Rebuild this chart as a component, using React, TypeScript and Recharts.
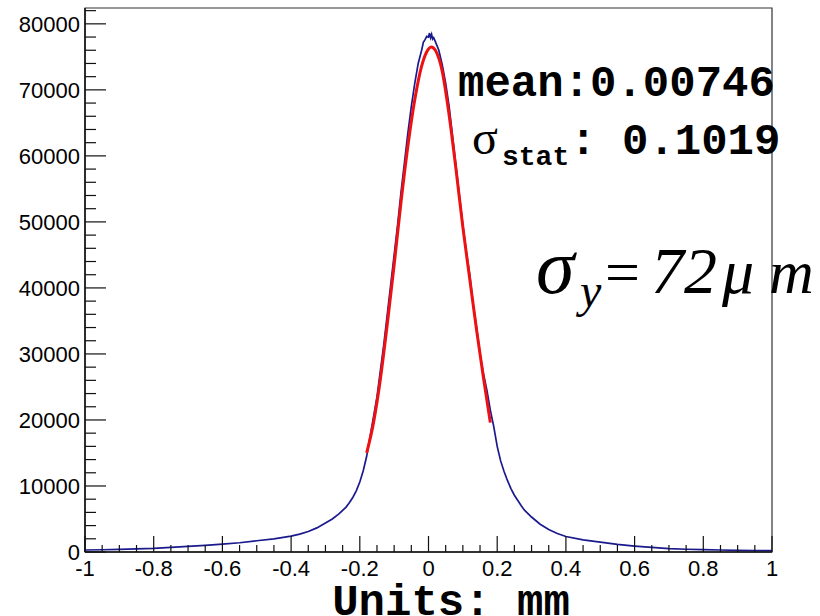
import React from "react";
import { LineChart, Line, XAxis, YAxis, ReferenceArea } from "recharts";

// Histogram (blue): x in mm, counts
const histX = [
  -1.0, -0.95, -0.9, -0.85, -0.8, -0.75, -0.7, -0.65, -0.6, -0.55, -0.5, -0.45, -0.4, -0.375, -0.35, -0.325,
  -0.3, -0.28, -0.26, -0.25, -0.24, -0.23, -0.22, -0.21, -0.2, -0.19, -0.18, -0.17, -0.16, -0.15, -0.14,
  -0.13, -0.12, -0.11, -0.1, -0.09, -0.08, -0.07, -0.06, -0.05, -0.04, -0.03, -0.02, -0.015, -0.01, -0.005,
  0.0, 0.003, 0.006, 0.009, 0.012, 0.015, 0.02, 0.03, 0.04, 0.05, 0.06, 0.07, 0.08, 0.09, 0.1, 0.11, 0.12,
  0.13, 0.14, 0.15, 0.16, 0.17, 0.18, 0.19, 0.2, 0.21, 0.22, 0.23, 0.24, 0.25, 0.26, 0.27, 0.28, 0.3,
  0.325, 0.35, 0.375, 0.4, 0.45, 0.5, 0.55, 0.6, 0.65, 0.7, 0.75, 0.8, 0.85, 0.9, 0.95, 1.0,
];
const histCounts = [
  300, 340, 400, 480, 560, 700, 850, 1000, 1200, 1400, 1700, 2000, 2400, 2700, 3100, 3650,
  4400, 5000, 5800, 6300, 6800, 7500, 8300, 9300, 10600, 12300, 14500, 17500, 20500, 23500, 27500,
  31500, 36000, 40500, 45000, 49500, 54500, 59000, 63500, 67500, 71000, 74000, 76000, 77200, 77600, 78100,
  78000, 78600, 77900, 78400, 77700, 77900, 77300, 76000, 73800, 71000, 67500, 63000, 58500, 54000, 49500, 45500, 42000,
  37500, 34000, 30000, 27000, 24500, 21500, 19000, 16000, 13800, 12200, 10800, 9600, 8600, 7800, 7000, 6300, 5300,
  4200, 3400, 2800, 2350, 1850, 1500, 1150, 900, 700, 520, 420, 350, 300, 260, 230, 200,
];

// Fit curve (red)
const fitX = [-0.18, -0.16, -0.14, -0.12, -0.1, -0.08, -0.06, -0.04, -0.02, 0.0, 0.008, 0.02, 0.04, 0.06, 0.08, 0.1, 0.12, 0.14, 0.16, 0.18];
const fitCounts = [15000, 19600, 26200, 34500, 43500, 53000, 61500, 68500, 73600, 76200, 76500, 76000, 72800, 66200, 58000, 49200, 41400, 33600, 26400, 19600];

const xMajorTicks = [-1, -0.8, -0.6, -0.4, -0.2, 0, 0.2, 0.4, 0.6, 0.8, 1];
const xAllTicks = [
  -1, -0.95, -0.9, -0.85, -0.8, -0.75, -0.7, -0.65, -0.6, -0.55, -0.5, -0.45, -0.4, -0.35, -0.3, -0.25, -0.2,
  -0.15, -0.1, -0.05, 0, 0.05, 0.1, 0.15, 0.2, 0.25, 0.3, 0.35, 0.4, 0.45, 0.5, 0.55, 0.6, 0.65, 0.7, 0.75,
  0.8, 0.85, 0.9, 0.95, 1,
];
const yMajorTicks = [0, 10000, 20000, 30000, 40000, 50000, 60000, 70000, 80000];
const yAllTicks = [
  0, 2000, 4000, 6000, 8000, 10000, 12000, 14000, 16000, 18000, 20000, 22000, 24000, 26000, 28000, 30000,
  32000, 34000, 36000, 38000, 40000, 42000, 44000, 46000, 48000, 50000, 52000, 54000, 56000, 58000, 60000,
  62000, 64000, 66000, 68000, 70000, 72000, 74000, 76000, 78000, 80000, 82000,
];
const xDomain: [number, number] = [-1, 1];
const yDomain: [number, number] = [0, 82400];

const histData = histX.map((x, i) => ({ x, y: histCounts[i] }));
const fitData = fitX.map((x, i) => ({ x, y: fitCounts[i] }));

const AX = "#111";
const sans = "'Liberation Sans', Arial, sans-serif";
const mono = "'Liberation Mono', 'Courier New', monospace";
const serif = "'Liberation Serif', 'Times New Roman', serif";
const TICK_FS = 22;
const X_MARGIN = 8;
const Y_MARGIN = 5;

function XTick(props: any) {
  const { x, y, payload } = props;
  const v = payload.value as number;
  const major = xMajorTicks.some((t) => Math.abs(t - v) < 1e-9);
  const axisY = y - X_MARGIN;
  const len = major ? 16 : 7;
  return (
    <g>
      <line x1={x} x2={x} y1={axisY} y2={axisY - len} stroke={AX} strokeWidth={1.2} />
      {major && (
        <text x={x} y={y} dy="0.71em" textAnchor="middle" fontFamily={sans} fontSize={TICK_FS} fill="#000">
          {String(v)}
        </text>
      )}
    </g>
  );
}

function YTick(props: any) {
  const { x, y, payload } = props;
  const v = payload.value as number;
  const major = yMajorTicks.includes(v);
  const axisX = x + Y_MARGIN;
  const len = major ? 21 : 11;
  return (
    <g>
      <line x1={axisX} x2={axisX + len} y1={y} y2={y} stroke={AX} strokeWidth={1.2} />
      {major && (
        <text x={x} y={y} dy="0.355em" textAnchor="end" fontFamily={sans} fontSize={TICK_FS} fill="#000">
          {String(v)}
        </text>
      )}
    </g>
  );
}

export default function App() {
  return (
    <div style={{ position: "absolute", left: 0, top: 0, width: 820, height: 616, background: "#fff" }}>
      <LineChart width={820} height={616} margin={{ top: 8, right: 48, left: 25, bottom: 34 }}>
        <XAxis
          xAxisId="main"
          type="number"
          dataKey="x"
          domain={xDomain}
          ticks={xAllTicks}
          allowDataOverflow
          tickLine={false}
          axisLine={{ stroke: AX, strokeWidth: 1.5 }}
          tickSize={0}
          tickMargin={X_MARGIN}
          height={30}
          tick={<XTick />}
          interval={0}
        />
        <YAxis
          yAxisId="main"
          type="number"
          domain={yDomain}
          ticks={yAllTicks}
          allowDataOverflow
          width={60}
          tickLine={false}
          axisLine={{ stroke: AX, strokeWidth: 1.5 }}
          tickSize={0}
          tickMargin={Y_MARGIN}
          tick={<YTick />}
          interval={0}
        />
        <ReferenceArea
          xAxisId="main"
          yAxisId="main"
          x1={-1}
          x2={1}
          y1={0}
          y2={82400}
          fill="none"
          fillOpacity={0}
          stroke="#333"
          strokeWidth={1.2}
        />
        <Line
          xAxisId="main"
          yAxisId="main"
          data={histData}
          dataKey="y"
          type="linear"
          stroke="#1a1a8e"
          strokeWidth={1.7}
          dot={false}
          isAnimationActive={false}
        />
        <Line
          xAxisId="main"
          yAxisId="main"
          data={fitData}
          dataKey="y"
          type="monotone"
          stroke="#ee1111"
          strokeWidth={3}
          dot={false}
          isAnimationActive={false}
        />
      </LineChart>
      <svg
        width={820}
        height={616}
        style={{ position: "absolute", left: 0, top: 0, pointerEvents: "none" }}
      >
        <text x={458} y={96} fontFamily={mono} fontWeight="bold" fontSize={44} fill="#000">
          mean:0.00746
        </text>
        <text y={154} fontFamily={mono} fontWeight="bold" fill="#000">
          <tspan x={472} fontFamily={serif} fontWeight="normal" fontSize={48}>σ</tspan>
          <tspan x={502} dy={11} fontSize={28}>stat</tspan>
          <tspan x={570} dy={-11} fontSize={44}>:</tspan>
          <tspan x={622} fontSize={44}>0.1019</tspan>
        </text>
        <text y={293} fontFamily={serif} fontStyle="italic" fill="#000">
          <tspan x={536} fontSize={78}>σ</tspan>
          <tspan x={580} dy={14} fontSize={48}>y</tspan>
          <tspan x={605} dy={-14} fontStyle="normal" fontSize={62}>=</tspan>
          <tspan x={651} fontSize={66}>72</tspan>
          <tspan x={722} fontSize={64}>μ</tspan>
          <tspan x={769} fontSize={62}>m</tspan>
        </text>
        <text x={451} y={615} textAnchor="middle" fontFamily={mono} fontWeight="bold" fontSize={44} fill="#000">
          Units: mm
        </text>
      </svg>
    </div>
  );
}
